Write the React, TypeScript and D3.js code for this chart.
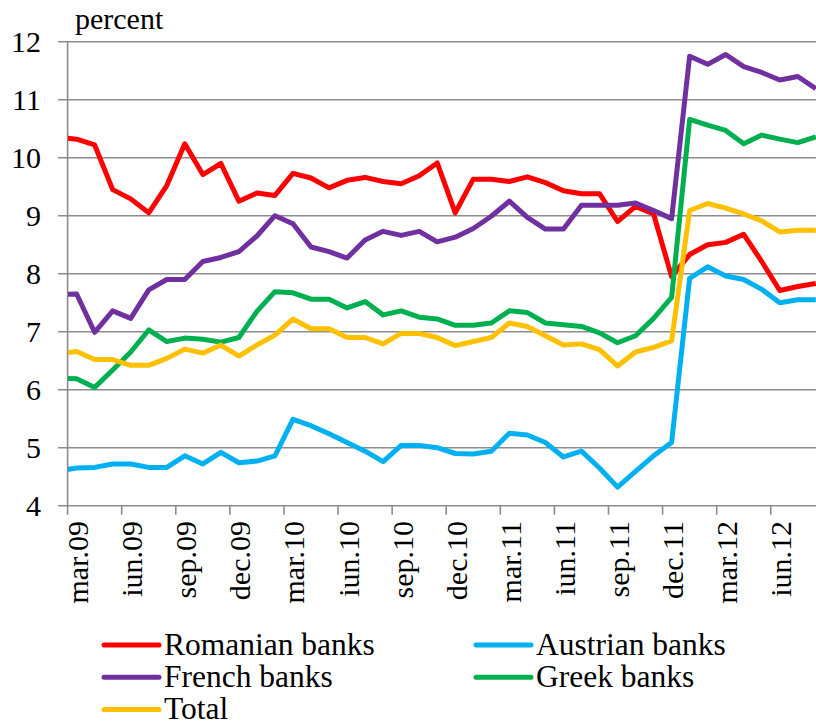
import React from "react";
import * as d3 from "d3";

// months from feb.09 (index -1) to aug.12 (index 41)
const startIndex = -1;
const romanian = [10.35, 10.32, 10.22, 9.45, 9.29, 9.05, 9.52, 10.24, 9.71, 9.9, 9.25, 9.39, 9.35, 9.73, 9.65, 9.48, 9.61, 9.66, 9.59, 9.55, 9.69, 9.91, 9.05, 9.63, 9.63, 9.59, 9.67, 9.57, 9.43, 9.38, 9.38, 8.9, 9.16, 9.03, 7.95, 8.33, 8.5, 8.54, 8.68, 8.21, 7.71, 7.78, 7.83];
const austrian = [4.6, 4.65, 4.66, 4.72, 4.72, 4.66, 4.66, 4.86, 4.72, 4.92, 4.74, 4.77, 4.86, 5.49, 5.38, 5.24, 5.09, 4.94, 4.76, 5.04, 5.04, 5.0, 4.9, 4.89, 4.94, 5.25, 5.22, 5.09, 4.84, 4.94, 4.65, 4.32, 4.59, 4.86, 5.09, 7.92, 8.12, 7.96, 7.9, 7.73, 7.5, 7.55, 7.55];
const french = [7.64, 7.65, 6.99, 7.36, 7.23, 7.72, 7.9, 7.9, 8.21, 8.28, 8.38, 8.65, 9.0, 8.86, 8.46, 8.38, 8.27, 8.58, 8.73, 8.66, 8.73, 8.55, 8.63, 8.78, 8.99, 9.25, 8.97, 8.77, 8.77, 9.18, 9.18, 9.18, 9.22, 9.09, 8.95, 11.75, 11.61, 11.78, 11.57, 11.47, 11.34, 11.4, 11.19];
const greek = [6.2, 6.19, 6.04, 6.34, 6.65, 7.03, 6.83, 6.89, 6.87, 6.82, 6.9, 7.35, 7.69, 7.67, 7.56, 7.56, 7.41, 7.52, 7.29, 7.36, 7.25, 7.22, 7.11, 7.11, 7.15, 7.36, 7.33, 7.15, 7.12, 7.09, 6.98, 6.81, 6.93, 7.23, 7.59, 10.66, 10.56, 10.47, 10.24, 10.39, 10.32, 10.26, 10.36];
const total = [6.62, 6.66, 6.52, 6.52, 6.42, 6.42, 6.54, 6.7, 6.63, 6.77, 6.58, 6.77, 6.94, 7.22, 7.05, 7.05, 6.9, 6.9, 6.79, 6.97, 6.97, 6.9, 6.76, 6.83, 6.9, 7.15, 7.09, 6.93, 6.77, 6.79, 6.69, 6.41, 6.65, 6.73, 6.84, 9.09, 9.21, 9.13, 9.03, 8.91, 8.72, 8.75, 8.75];

const tickLabels = ["mar.09", "iun.09", "sep.09", "dec.09", "mar.10", "iun.10", "sep.10", "dec.10", "mar.11", "iun.11", "sep.11", "dec.11", "mar.12", "iun.12"];
const yTicks = [4, 5, 6, 7, 8, 9, 10, 11, 12];
const seriesNames = ["Romanian banks", "Austrian banks", "French banks", "Greek banks", "Total"];
const seriesColors = ["#FF0000", "#00B0F0", "#7030A0", "#00B050", "#FFC000"];
const seriesValues = [romanian, austrian, french, greek, total];

const FONT = "'Liberation Serif', 'Times New Roman', serif";

export default function App() {
  const W = 816, H = 723;
  const left = 67.6, monthW = 18.03;
  const plotRight = 816;
  const x = d3.scaleLinear().domain([0, 42]).range([left, left + 42 * monthW]);
  const y = d3.scaleLinear().domain([4, 12]).range([505.7, 41.7]);
  const line = d3
    .line<number>()
    .x((_, i) => x(i + startIndex + 0.5))
    .y((d) => y(d));

  const legendItems = seriesNames.map((n, k) => {
    const col = k === 4 ? 0 : k % 2;
    const row = Math.floor(k / 2);
    return { name: n, color: seriesColors[k], col, row };
  });

  return (
    <svg width={W} height={H} style={{ position: "absolute", left: 0, top: 0, background: "#fff" }} fontFamily={FONT}>
      <defs>
        <clipPath id="plotClip">
          <rect x={68} y={20} width={plotRight - 68} height={495} />
        </clipPath>
      </defs>
      {yTicks.map((t) => (
        <line key={t} x1={58} x2={plotRight} y1={y(t)} y2={y(t)} stroke="#8c8c8c" strokeWidth={1.6} />
      ))}
      <line x1={left} x2={left} y1={y(12)} y2={y(4)} stroke="#8c8c8c" strokeWidth={1.6} />
      {tickLabels.map((lab, k) => {
        const i = k * 3;
        const tx = x(i);
        return (
          <g key={lab}>
            <line x1={tx} x2={tx} y1={y(4)} y2={y(4) + 9} stroke="#8c8c8c" strokeWidth={1.6} />
            <text
              transform={`translate(${x(i + 0.5) + 11.5},${521}) rotate(-90)`}
              textAnchor="end"
              fontSize={30}
              fill="#000"
            >
              {lab}
            </text>
          </g>
        );
      })}
      {yTicks.map((t) => (
        <text key={t} x={41} y={y(t) + 10} textAnchor="end" fontSize={30} fill="#000">
          {t}
        </text>
      ))}
      <text x={75} y={29} fontSize={30} fill="#000">percent</text>
      <g clipPath="url(#plotClip)">
        {seriesValues.map((vals, k) => (
          <path key={k} d={line(vals) || ""} fill="none" stroke={seriesColors[k]} strokeWidth={5} strokeLinejoin="round" strokeLinecap="butt" />
        ))}
      </g>
      {legendItems.map((it) => {
        const lx = it.col === 0 ? 104 : 476;
        const cy = 645 + it.row * 32.3;
        return (
          <g key={it.name}>
            <line x1={lx} x2={lx + 55} y1={cy} y2={cy} stroke={it.color} strokeWidth={5} strokeLinecap="round" />
            <text x={lx + 60} y={cy + 9.5} fontSize={31.5} fill="#000">
              {it.name}
            </text>
          </g>
        );
      })}
    </svg>
  );
}
